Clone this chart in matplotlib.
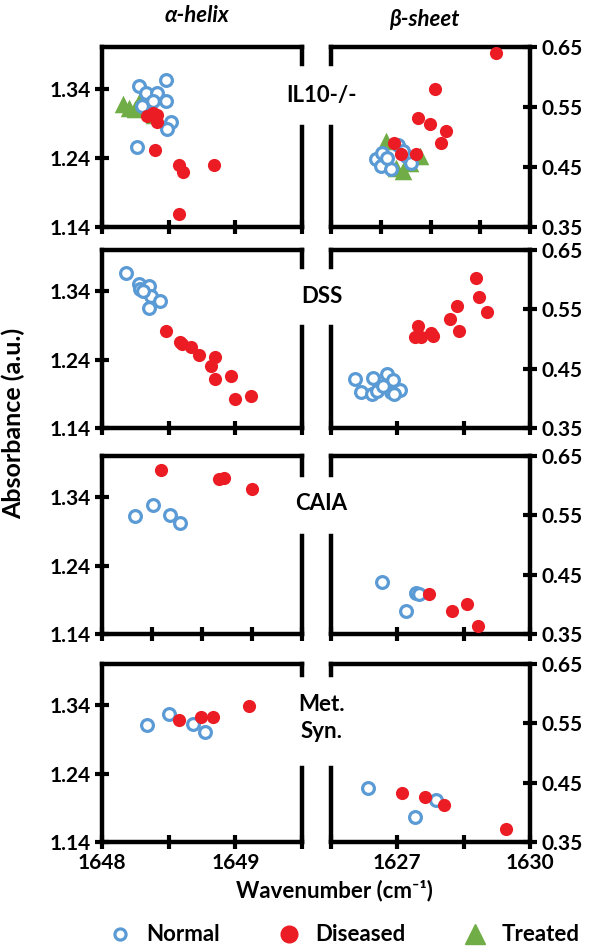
import numpy as np
import matplotlib.pyplot as plt

plt.rcParams['font.family'] = ['Lato', 'DejaVu Sans']
plt.rcParams['font.weight'] = 'bold'

blue = '#5B9BD5'
red = '#EC1C24'
green = '#70AD47'

row_names = ['IL10-/-', 'DSS', 'CAIA', 'Met.\nSyn.']

# ---- alpha-helix panels (wavenumber, absorbance) ----
il10_a_norm_x = [1648.48, 1648.28, 1648.33, 1648.41, 1648.48, 1648.52, 1648.49, 1648.26, 1648.38, 1648.30]
il10_a_norm_y = [1.353, 1.344, 1.334, 1.334, 1.322, 1.292, 1.281, 1.256, 1.322, 1.315]
il10_a_dis_x = [1648.34, 1648.41, 1648.41, 1648.40, 1648.58, 1648.61, 1648.84, 1648.58, 1648.38]
il10_a_dis_y = [1.301, 1.302, 1.291, 1.251, 1.230, 1.220, 1.229, 1.159, 1.304]
il10_a_trt_x = [1648.16, 1648.275, 1648.25, 1648.39, 1648.20]
il10_a_trt_y = [1.318, 1.320, 1.310, 1.302, 1.312]

dss_a_norm_x = [1648.18, 1648.28, 1648.285, 1648.355, 1648.37, 1648.435, 1648.35, 1648.31]
dss_a_norm_y = [1.367, 1.350, 1.343, 1.348, 1.333, 1.326, 1.316, 1.340]
dss_a_dis_x = [1648.48, 1648.585, 1648.67, 1648.73, 1648.85, 1648.815, 1648.85, 1648.965, 1649.0, 1649.12, 1648.60]
dss_a_dis_y = [1.282, 1.265, 1.259, 1.247, 1.244, 1.230, 1.211, 1.216, 1.182, 1.187, 1.263]

caia_a_norm_x = [1648.33, 1648.51, 1648.68, 1648.78]
caia_a_norm_y = [1.313, 1.328, 1.314, 1.302]
caia_a_dis_x = [1648.59, 1649.17, 1649.22, 1649.50]
caia_a_dis_y = [1.380, 1.366, 1.368, 1.352]

met_a_norm_x = [1648.335, 1648.505, 1648.685, 1648.77]
met_a_norm_y = [1.311, 1.327, 1.313, 1.301]
met_a_dis_x = [1648.58, 1648.74, 1648.83, 1649.10]
met_a_dis_y = [1.318, 1.323, 1.322, 1.339]

# ---- beta-sheet panels (wavenumber, absorbance) ----
il10_b_norm_x = [1626.90, 1627.03, 1627.34, 1627.51, 1627.00, 1627.20, 1627.61, 1627.13, 1627.44]
il10_b_norm_y = [0.464, 0.474, 0.486, 0.468, 0.451, 0.447, 0.456, 0.465, 0.476]
il10_b_dis_x = [1629.31, 1628.09, 1627.75, 1627.98, 1628.31, 1628.22, 1627.27, 1627.41, 1627.70]
il10_b_dis_y = [0.640, 0.580, 0.531, 0.521, 0.510, 0.490, 0.490, 0.471, 0.471]
il10_b_trt_x = [1627.11, 1627.31, 1627.78, 1627.44, 1627.58]
il10_b_trt_y = [0.493, 0.448, 0.468, 0.443, 0.457]

dss_b_norm_x = [1626.05, 1626.18, 1626.45, 1626.42, 1626.55, 1626.76, 1626.91, 1626.86, 1627.05, 1626.93, 1626.67]
dss_b_norm_y = [0.432, 0.410, 0.435, 0.407, 0.413, 0.441, 0.431, 0.411, 0.414, 0.407, 0.421]
dss_b_dis_x = [1628.77, 1628.85, 1629.02, 1628.35, 1628.18, 1628.39, 1627.46, 1627.39, 1627.54, 1627.77, 1627.80]
dss_b_dis_y = [0.602, 0.570, 0.546, 0.555, 0.534, 0.514, 0.522, 0.504, 0.504, 0.510, 0.505]

caia_b_norm_x = [1626.66, 1627.43, 1627.20, 1627.48]
caia_b_norm_y = [0.438, 0.419, 0.389, 0.418]
caia_b_dis_x = [1627.71, 1628.23, 1628.58, 1628.83]
caia_b_dis_y = [0.417, 0.389, 0.400, 0.364]

met_b_norm_x = [1626.33, 1627.39, 1627.87]
met_b_norm_y = [0.441, 0.392, 0.421]
met_b_dis_x = [1627.11, 1627.62, 1628.05, 1629.46]
met_b_dis_y = [0.432, 0.426, 0.413, 0.372]

alpha = [
    (il10_a_norm_x, il10_a_norm_y, il10_a_dis_x, il10_a_dis_y, il10_a_trt_x, il10_a_trt_y),
    (dss_a_norm_x, dss_a_norm_y, dss_a_dis_x, dss_a_dis_y, [], []),
    (caia_a_norm_x, caia_a_norm_y, caia_a_dis_x, caia_a_dis_y, [], []),
    (met_a_norm_x, met_a_norm_y, met_a_dis_x, met_a_dis_y, [], []),
]
beta = [
    (il10_b_norm_x, il10_b_norm_y, il10_b_dis_x, il10_b_dis_y, il10_b_trt_x, il10_b_trt_y),
    (dss_b_norm_x, dss_b_norm_y, dss_b_dis_x, dss_b_dis_y, [], []),
    (caia_b_norm_x, caia_b_norm_y, caia_b_dis_x, caia_b_dis_y, [], []),
    (met_b_norm_x, met_b_norm_y, met_b_dis_x, met_b_dis_y, [], []),
]

# x ranges / tick steps differ a bit between the original panels
alpha_xlims = [(1648, 1649.5, 0.5), (1648, 1649.5, 0.5), (1648, 1650, 0.5), (1648, 1649.5, 0.5)]
beta_xlims = [(1626, 1630, 1.0), (1625.5, 1630, 1.5), (1625.5, 1630, 1.5), (1625.5, 1630, 1.5)]

# pixel rows (top, bottom) and the gap in the inner spines
rows_px = [(47, 227), (250, 428), (456, 634), (664, 842)]
gaps = [(0.556, 0.906), (0.567, 0.904), (0.55, 0.893), (0.416, 0.938)]
label_y = [0.900, 0.688, 0.471, 0.245]

W, H = 600, 951
fig = plt.figure(figsize=(6, 9.51), dpi=100)

lw = 3.2
tick_kw = dict(direction='inout', length=10, width=3, labelsize=15, pad=3)


def draw(ax, data):
    nx, ny, dx, dy, tx, ty = data
    ax.scatter(nx, ny, s=72, facecolors='white', edgecolors=blue, linewidths=2.3, zorder=3)
    ax.scatter(tx, ty, s=160, marker='^', color=green, linewidths=0, zorder=2)
    ax.scatter(dx, dy, s=90, color=red, linewidths=0, zorder=4)


for i in range(4):
    top, bot = rows_px[i]
    b = 1 - bot / H
    h = (bot - top) / H

    axl = fig.add_axes([102 / W, b, 200 / W, h])
    axr = fig.add_axes([331 / W, b, 199 / W, h])

    draw(axl, alpha[i])
    draw(axr, beta[i])

    x0, x1, st = alpha_xlims[i]
    axl.set_xlim(x0, x1)
    axl.set_xticks(np.arange(x0, x1 + 1e-6, st))
    axl.set_ylim(1.14, 1.40)
    axl.set_yticks([1.14, 1.24, 1.34])
    axl.set_yticklabels(['1.14', '1.24', '1.34'])

    x0, x1, st = beta_xlims[i]
    axr.set_xlim(x0, x1)
    axr.set_xticks(np.arange(x0, x1 + 1e-6, st))
    axr.set_ylim(0.35, 0.65)
    axr.set_yticks([0.35, 0.45, 0.55, 0.65])
    axr.set_yticklabels(['0.35', '0.45', '0.55', '0.65'])
    axr.yaxis.tick_right()

    for ax in (axl, axr):
        for sp in ax.spines.values():
            sp.set_linewidth(lw)
        ax.tick_params(**tick_kw)

    axl.spines['right'].set_visible(False)
    axr.spines['left'].set_visible(False)
    axr.tick_params(axis='y', left=False, right=True)

    # inner spines are broken around the model label
    lo, hi = gaps[i]
    for ax, xv in ((axl, axl.get_xlim()[1]), (axr, axr.get_xlim()[0])):
        ax.axvline(xv, 0, lo, color='black', lw=lw, clip_on=False, solid_capstyle='projecting')
        ax.axvline(xv, hi, 1, color='black', lw=lw, clip_on=False, solid_capstyle='projecting')

    if i == 3:
        axl.set_xticklabels(['1648', '', '1649', ''])
        axr.set_xticklabels(['', '1627', '', '1630'])
    else:
        axl.set_xticklabels([])
        axr.set_xticklabels([])

    fig.text(0.536, label_y[i], row_names[i], ha='center', va='center',
             fontsize=16, fontweight='bold', linespacing=1.3)

fig.text(0.328, 0.984, 'α-helix', ha='center', va='center', fontsize=16,
         fontweight='bold', style='italic')
fig.text(0.707, 0.979, 'β-sheet', ha='center', va='center', fontsize=16,
         fontweight='bold', style='italic')

fig.text(0.022, 0.555, 'Absorbance (a.u.)', rotation=90, ha='center', va='center',
         fontsize=18, fontweight='bold')
fig.text(0.558, 0.064, 'Wavenumber (cm⁻¹)', ha='center', va='center',
         fontsize=16, fontweight='bold')

# legend
hn = plt.Line2D([], [], ls='', marker='o', ms=8, mfc='white', mec=blue, mew=2.3, label='Normal')
hd = plt.Line2D([], [], ls='', marker='o', ms=12, mfc=red, mec=red, label='Diseased')
ht = plt.Line2D([], [], ls='', marker='^', ms=14, mfc=green, mec=green, label='Treated')
fig.legend(handles=[hn, hd, ht], loc='center', bbox_to_anchor=(0.573, 0.017), ncol=3,
           frameon=False, fontsize=16, handlelength=1.0, handletextpad=0.7,
           columnspacing=2.6, borderpad=0.2)

fig.savefig('out.png', dpi=100)
